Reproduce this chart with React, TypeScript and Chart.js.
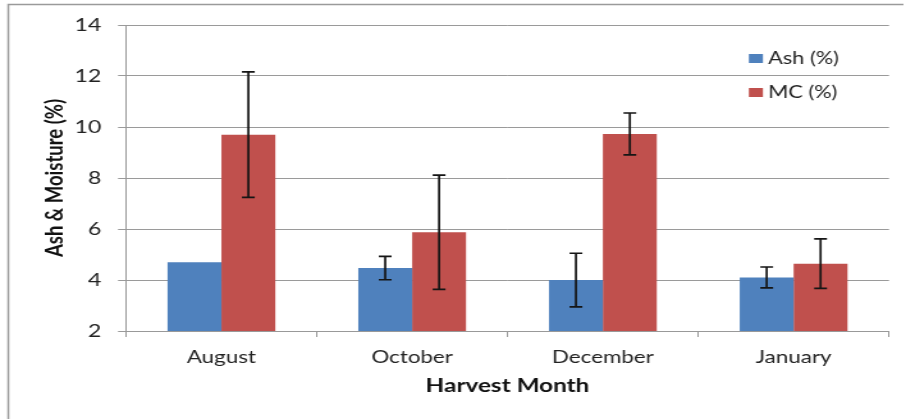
import React, { useEffect, useRef } from "react";
import { Chart, registerables } from "chart.js";

Chart.register(...registerables);

const categories = ["August", "October", "December", "January"];
const ashValues = [4.7, 4.47, 4.0, 4.1];
const ashErrors = [0, 0.46, 1.05, 0.41];
const mcValues = [9.7, 5.87, 9.73, 4.64];
const mcErrors = [2.46, 2.24, 0.82, 0.97];
const seriesLabels = ["Ash (%)", "MC (%)"];
const yTitle = "Ash & Moisture (%)";
const xTitle = "Harvest Month";

const FONT = "Lato, 'Open Sans', sans-serif";
const CW = 708; // canvas width, stretched horizontally to 906
const STRETCH = 906 / CW;

const errorBarPlugin = {
  id: "errorBars",
  afterDatasetsDraw(chart: any) {
    const { ctx } = chart;
    const y = chart.scales.y;
    ctx.save();
    ctx.strokeStyle = "#151515";
    ctx.lineWidth = 1.7;
    chart.data.datasets.forEach((ds: any, di: number) => {
      const meta = chart.getDatasetMeta(di);
      const errs: number[] = ds.errors || [];
      meta.data.forEach((el: any, i: number) => {
        const v = ds.data[i];
        const e = errs[i];
        if (!e) return;
        const top = y.getPixelForValue(v + e);
        const bot = y.getPixelForValue(v - e);
        const x = el.x;
        const cap = 5;
        ctx.beginPath();
        ctx.moveTo(x, top);
        ctx.lineTo(x, bot);
        ctx.moveTo(x - cap, top);
        ctx.lineTo(x + cap, top);
        ctx.moveTo(x - cap, bot);
        ctx.lineTo(x + cap, bot);
        ctx.stroke();
      });
    });
    ctx.restore();
  },
};

const innerLegendPlugin = {
  id: "innerLegend",
  afterDraw(chart: any) {
    const { ctx, chartArea } = chart;
    ctx.save();
    ctx.font = `17px ${FONT}`;
    ctx.textBaseline = "middle";
    ctx.textAlign = "left";
    chart.data.datasets.forEach((ds: any, i: number) => {
      const cy = chartArea.top + 33.5 + i * 34;
      const sx = chartArea.right - 109.5;
      ctx.fillStyle = ds.backgroundColor;
      ctx.fillRect(sx, cy - 4.5, 11, 9);
      ctx.fillStyle = "#222";
      ctx.fillText(ds.label, sx + 15, cy);
    });
    ctx.restore();
  },
};

const framePlugin = {
  id: "frame",
  beforeDraw(chart: any) {
    const { ctx } = chart;
    ctx.save();
    ctx.strokeStyle = "#9a9a9a";
    ctx.lineWidth = 1.5;
    ctx.beginPath();
    ctx.moveTo(6.5, chart.height);
    ctx.lineTo(6.5, 4.5);
    ctx.lineTo(706, 4.5);
    ctx.stroke();
    ctx.restore();
  },
};

export default function App() {
  const ref = useRef<HTMLCanvasElement>(null);

  useEffect(() => {
    if (!ref.current) return;
    const chart = new Chart(ref.current, {
      type: "bar",
      data: {
        labels: categories,
        datasets: [
          {
            label: seriesLabels[0],
            data: ashValues,
            errors: ashErrors,
            backgroundColor: "#4F81BD",
            barPercentage: 1,
            categoryPercentage: 0.565,
          } as any,
          {
            label: seriesLabels[1],
            data: mcValues,
            errors: mcErrors,
            backgroundColor: "#C0504D",
            barPercentage: 1,
            categoryPercentage: 0.565,
          } as any,
        ],
      },
      options: {
        animation: false,
        responsive: false,
        maintainAspectRatio: false,
        layout: { padding: { top: 25, right: 13.3, left: 0, bottom: 0 } },
        plugins: {
          legend: { display: false },
          tooltip: { enabled: false },
        },
        scales: {
          x: {
            type: "category",
            offset: true,
            grid: {
              display: true,
              drawOnChartArea: false,
              drawTicks: true,
              tickLength: 6,
              color: "#999",
              offset: true,
            },
            border: { display: true, color: "#999", width: 1 },
            ticks: {
              font: { family: FONT, size: 17.5 },
              color: "#222",
              padding: 9.5,
            },
            title: {
              display: true,
              text: xTitle,
              font: { family: FONT, size: 19, weight: "bold" },
              color: "#111",
              padding: { top: 0, bottom: 22 },
            },
            afterFit(scale: any) {
              scale.height = 88;
            },
          },
          y: {
            min: 2,
            max: 14,
            ticks: {
              stepSize: 2,
              font: { family: FONT, size: 18 },
              color: "#222",
              padding: 13,
            },
            grid: {
              color: "#9a9a9a",
              tickLength: 6.25,
              lineWidth: 1,
            },
            border: { display: true, color: "#999", width: 1 },
            title: {
              display: true,
              text: yTitle,
              font: { family: FONT, size: 18.5, weight: "bold" },
              color: "#111",
              padding: { top: 31.5, bottom: 0 },
            },
            afterFit(scale: any) {
              scale.width = 98.5;
            },
          },
        },
      } as any,
      plugins: [framePlugin, errorBarPlugin, innerLegendPlugin],
    });
    return () => chart.destroy();
  }, []);

  return (
    <div style={{ position: "absolute", left: 0, top: 0, width: 906, height: 419, background: "#fff", overflow: "hidden" }}>
      <div style={{ width: CW, height: 419, transform: `scaleX(${STRETCH})`, transformOrigin: "0 0" }}>
        <canvas ref={ref} width={CW} height={419} style={{ display: "block", width: CW, height: 419 }} />
      </div>
    </div>
  );
}
